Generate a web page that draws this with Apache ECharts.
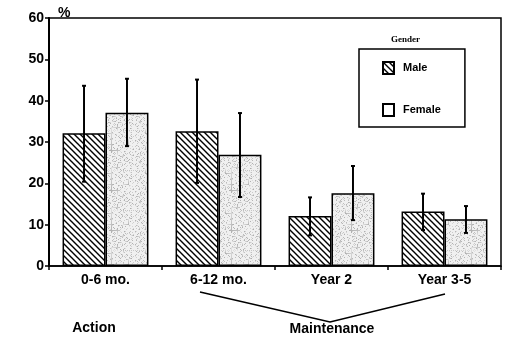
<!DOCTYPE html>
<html>
<head>
<meta charset="utf-8">
<script src="https://cdn.jsdelivr.net/npm/echarts@6/dist/echarts.min.js"></script>
<style>
  html, body {margin: 0; padding: 0; background: #fff;}
  #chart {width: 508px; height: 338px;}
</style>
</head>
<body>
<div id="chart"></div>
<script>
// data
const categories = ['0-6 mo.', '6-12 mo.', 'Year 2', 'Year 3-5'];
const maleValues = [32.1, 32.6, 12.1, 13.2];
const maleLow = [20.4, 20.1, 7.4, 8.7];
const maleHigh = [43.6, 45.1, 16.6, 17.5];
const femaleValues = [37.1, 26.9, 17.6, 11.3];
const femaleLow = [29.0, 16.7, 11.1, 8.0];
const femaleHigh = [45.3, 37.0, 24.2, 14.5];
const yTicks = [0, 10, 20, 30, 40, 50, 60];

const FONT = 'Liberation Sans, Arial, sans-serif';
const BAR_W = 0.38;

// diagonal hatch fill for Male
function hatch() {
  const c = document.createElement('canvas');
  c.width = 6; c.height = 6;
  const g = c.getContext('2d');
  g.fillStyle = '#fff';
  g.fillRect(0, 0, 6, 6);
  g.strokeStyle = '#000';
  g.lineWidth = 1.4;
  g.beginPath();
  g.moveTo(-1, -1); g.lineTo(7, 7);
  g.moveTo(-7, -1); g.lineTo(1, 7);
  g.moveTo(5, -1); g.lineTo(13, 7);
  g.stroke();
  return c;
}

// light grey speckle for Female
function speckle() {
  const n = 40;
  const c = document.createElement('canvas');
  c.width = n; c.height = n;
  const g = c.getContext('2d');
  const img = g.createImageData(n, n);
  for (let j = 0; j < n; j++) {
    for (let i = 0; i < n; i++) {
      const h = ((i * 73 + j * 151 + i * j * 17) % 97);
      const v = h < 26 ? 175 + h * 2 : 240;
      const k = (j * n + i) * 4;
      img.data[k] = img.data[k + 1] = img.data[k + 2] = v;
      img.data[k + 3] = 255;
    }
  }
  g.putImageData(img, 0, 0);
  return c;
}

function errRenderer(sign) {
  return function (params, api) {
    const x = api.value(0);
    const lo = api.coord([x, api.value(1)]);
    const hi = api.coord([x, api.value(2)]);
    const band = api.size([1, 0])[0];
    const cx = lo[0] + sign * band * BAR_W / 2;
    const style = {stroke: '#000', lineWidth: 2};
    return {
      type: 'group',
      children: [
        {type: 'line', shape: {x1: cx, y1: lo[1], x2: cx, y2: hi[1]}, style},
        {type: 'line', shape: {x1: cx - 2, y1: hi[1], x2: cx + 2, y2: hi[1]}, style},
        {type: 'line', shape: {x1: cx - 2, y1: lo[1], x2: cx + 2, y2: lo[1]}, style}
      ]
    };
  };
}

const myChart = echarts.init(document.getElementById('chart'));
myChart.setOption({
  animation: false,
  grid: {left: 49, right: 7, top: 18, bottom: 72, show: true, borderColor: '#000', borderWidth: 1.5},
  legend: {
    orient: 'vertical',
    left: 359,
    top: 49,
    padding: [12, 24, 10, 23],
    borderColor: '#000',
    borderWidth: 1.5,
    itemWidth: 11,
    itemHeight: 12,
    itemGap: 28,
    icon: 'rect',
    textStyle: {fontFamily: FONT, fontWeight: 'bold', fontSize: 11, color: '#000', padding: [0, 0, 0, 4]},
    data: [
      {name: 'Male'},
      {name: 'Female', itemStyle: {color: '#fff'}}
    ]
  },
  xAxis: {
    type: 'category',
    data: categories,
    axisLine: {lineStyle: {color: '#000', width: 1.5}},
    axisTick: {show: true, length: 4, lineStyle: {color: '#000', width: 1.5}},
    axisLabel: {fontFamily: FONT, fontWeight: 'bold', fontSize: 14, color: '#000', margin: 7}
  },
  yAxis: {
    type: 'value',
    min: yTicks[0],
    max: yTicks[yTicks.length - 1],
    interval: 10,
    name: '%',
    nameLocation: 'end',
    nameGap: -2,
    nameTextStyle: {fontFamily: FONT, fontWeight: 'bold', fontSize: 14, color: '#000', align: 'left', padding: [0, 0, 0, 9]},
    splitLine: {show: false},
    axisLine: {show: true, lineStyle: {color: '#000', width: 2}},
    axisTick: {show: true, length: 4, lineStyle: {color: '#000', width: 1.5}},
    axisLabel: {fontFamily: FONT, fontWeight: 'bold', fontSize: 14, color: '#000', margin: 5}
  },
  series: [
    {
      name: 'Male',
      type: 'bar',
      data: maleValues,
      barWidth: (BAR_W * 100) + '%',
      barGap: '0%',
      itemStyle: {color: {image: hatch(), repeat: 'repeat'}, borderColor: '#000', borderWidth: 1.5}
    },
    {
      name: 'Female',
      type: 'bar',
      data: femaleValues,
      barWidth: (BAR_W * 100) + '%',
      barGap: '0%',
      itemStyle: {color: {image: speckle(), repeat: 'repeat'}, borderColor: '#000', borderWidth: 1.5}
    },
    {
      type: 'custom',
      z: 5,
      renderItem: errRenderer(-1),
      data: categories.map((c, i) => [i, maleLow[i], maleHigh[i]])
    },
    {
      type: 'custom',
      z: 5,
      renderItem: errRenderer(1),
      data: categories.map((c, i) => [i, femaleLow[i], femaleHigh[i]])
    }
  ],
  graphic: [
    {
      type: 'text', left: 391, top: 35,
      style: {text: 'Gender', font: 'bold 9px "Liberation Serif", serif', fill: '#000'}
    },
    {
      type: 'polyline',
      shape: {points: [[200, 292], [330, 322], [445, 294]]},
      style: {stroke: '#000', lineWidth: 1.5, fill: null}
    },
    {
      type: 'text', x: 94, y: 328,
      style: {text: 'Action', font: 'bold 14px ' + FONT, fill: '#000', align: 'center', verticalAlign: 'middle'}
    },
    {
      type: 'text', x: 332, y: 329,
      style: {text: 'Maintenance', font: 'bold 14px ' + FONT, fill: '#000', align: 'center', verticalAlign: 'middle'}
    }
  ]
});
</script>
</body>
</html>
